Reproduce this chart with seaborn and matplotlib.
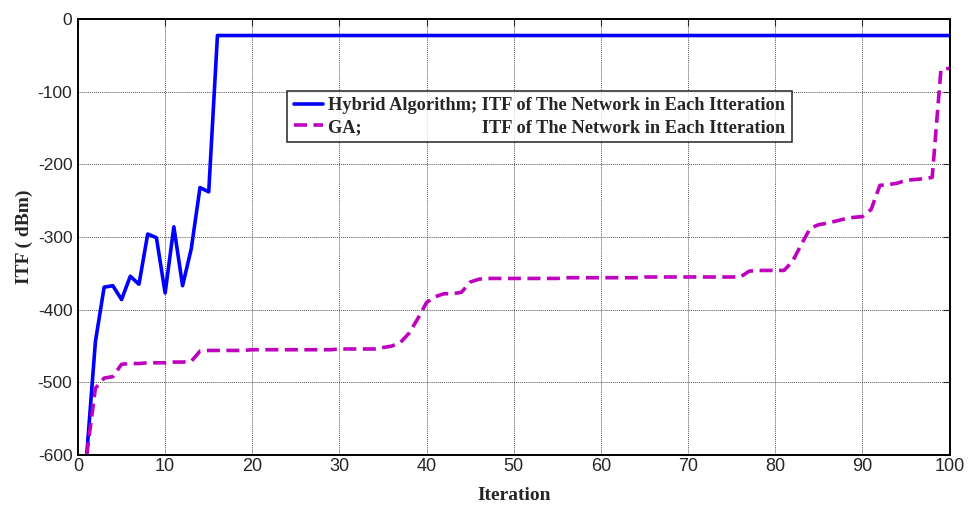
#ITF per iteration for the hybrid algorithm vs the plain GA
import numpy as np
import pandas as pd
import matplotlib
matplotlib.use("Agg")
import matplotlib.pyplot as plt
import seaborn as sns

#values, one per iteration
hybrid_iter = list(range(1, 101))
hybrid_itf = [-600, -444, -369, -367, -386, -354, -365, -296, -301, -377,
              -286, -367, -316, -232, -238] + [-23] * 85

ga_iter = list(range(1, 101))
ga_itf = [-600, -508, -494, -492, -475, -474, -474, -473, -473, -473,
          -472, -472, -471, -457, -456, -456, -456, -456, -456, -455,
          -455, -455, -455, -455, -455, -455, -455, -455, -455, -454,
          -454, -454, -454, -454, -452, -450, -445, -432, -412, -390,
          -382, -378, -378, -376, -362, -358, -357, -357, -357, -357,
          -357, -357, -357, -357, -357, -356, -356, -356, -356, -356,
          -356, -356, -356, -356, -355, -355, -355, -355, -355, -355,
          -355, -355, -355, -355, -355, -355, -347, -346, -346, -346,
          -346, -333, -310, -288, -283, -281, -278, -275, -273, -272,
          -262, -229, -228, -226, -222, -221, -220, -218, -70, -68]

hybrid_label = "Hybrid Algorithm; ITF of The Network in Each Itteration"
ga_label = "GA;                          ITF of The Network in Each Itteration"

x_ticks = list(range(0, 101, 10))
y_ticks = list(range(-600, 1, 100))

df = pd.concat([
    pd.DataFrame({"Iteration": hybrid_iter, "ITF": hybrid_itf, "series": hybrid_label}),
    pd.DataFrame({"Iteration": ga_iter, "ITF": ga_itf, "series": ga_label}),
])

sns.set_style("white")
plt.rcParams["axes.unicode_minus"] = False
serif = ["Liberation Serif", "DejaVu Serif"]
narrow = ["Liberation Sans Narrow", "Liberation Sans", "DejaVu Sans"]

fig, ax = plt.subplots(figsize=(9.71, 5.08), dpi=100)
fig.subplots_adjust(left=0.0803, right=0.978, top=0.963, bottom=0.104)

sns.lineplot(data=df, x="Iteration", y="ITF", hue="series", style="series",
             palette=["#0000ff", "#bf00bf"], dashes=[(None, None), (3.6, 1.8)],
             linewidth=2.6, ax=ax, legend=False)

ax.set_xlim(0, 100)
ax.set_ylim(-600, 0)
ax.set_xticks(x_ticks)
ax.set_yticks(y_ticks)
ax.grid(True, color="#555555", linestyle=(0, (1, 1)), linewidth=0.7)
ax.tick_params(direction="in", top=True, right=True, length=5, width=0.8,
               labelsize=13, pad=2)
ax.tick_params(axis="y", labelsize=12.5, pad=4)
for lab in ax.get_xticklabels() + ax.get_yticklabels():
    lab.set_family(narrow)
for sp in ax.spines.values():
    sp.set_linewidth(1.4)
    sp.set_color("black")

ax.set_xlabel("Iteration", fontsize=14, fontweight="bold", family=serif, labelpad=9)
ax.set_ylabel("ITF ( dBm)", fontsize=14, fontweight="bold", family=serif, labelpad=3)

handles = [plt.Line2D([], [], color="#0000ff", lw=2.6),
           plt.Line2D([], [], color="#bf00bf", lw=2.6, dashes=(3.6, 1.8))]
leg = ax.legend(handles, [hybrid_label, ga_label], loc="upper left",
                bbox_to_anchor=(0.240, 0.835), frameon=True, fancybox=False,
                handlelength=1.6, handletextpad=0.3, borderpad=0.35,
                labelspacing=0.25, borderaxespad=0,
                prop={"family": serif, "weight": "bold", "size": 13.2})
leg.get_frame().set_edgecolor("black")
leg.get_frame().set_linewidth(1.2)

plt.savefig("out.png", dpi=100)
